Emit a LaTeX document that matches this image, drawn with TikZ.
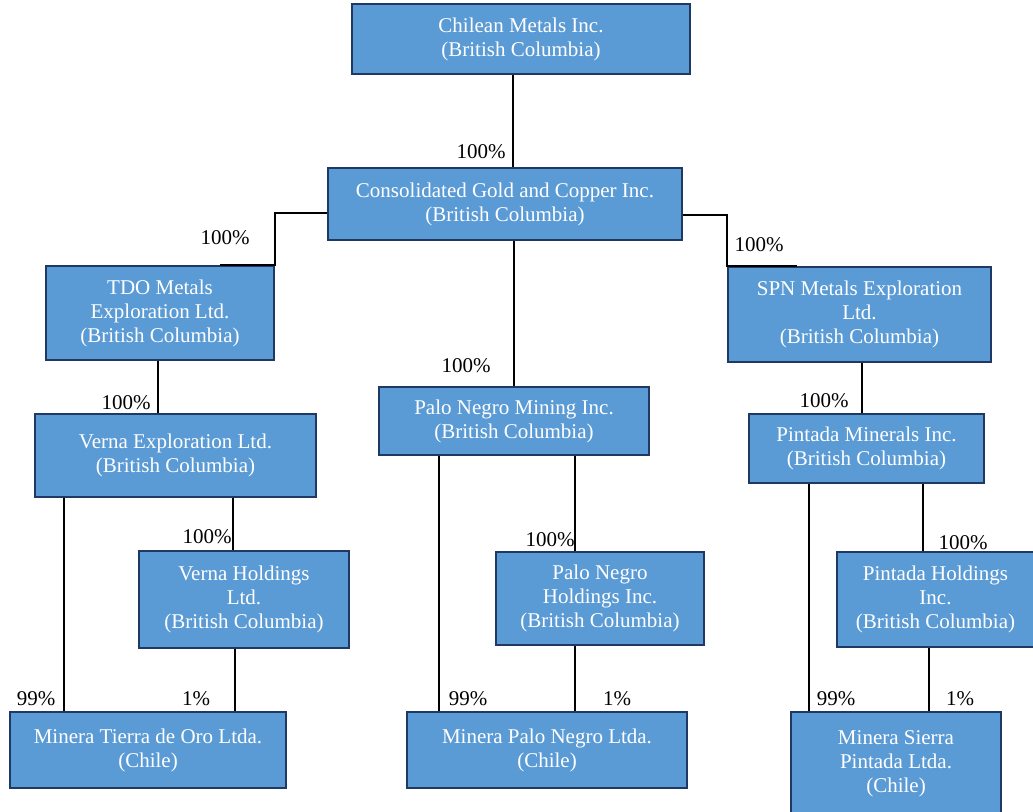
\documentclass[tikz,border=0pt]{standalone}
\usepackage{fontspec}
\setmainfont{Liberation Serif}
\definecolor{boxfill}{HTML}{5B9BD5}
\definecolor{boxline}{HTML}{203864}

\begin{document}
\begin{tikzpicture}[x=0.5pt,y=-0.5pt,
  entity/.style={draw=boxline,line width=1.1pt,fill=boxfill,text=white,align=center,inner sep=0pt,font=\fontsize{10.5}{12}\selectfont},
  pct/.style={inner sep=0pt,font=\fontsize{10.5}{12}\selectfont},
  link/.style={line width=0.8pt}]
\useasboundingbox (0,0) rectangle (1033,812);

% companies
\node[entity,minimum width=169pt,minimum height=35pt] (chilean) at (521,39) {Chilean Metals Inc.\\(British Columbia)};
\node[entity,minimum width=177pt,minimum height=36pt] (consol) at (505,204) {Consolidated Gold and Copper Inc.\\(British Columbia)};
\node[entity,minimum width=114pt,minimum height=47pt] (tdo) at (160,313) {TDO Metals\\Exploration Ltd.\\(British Columbia)};
\node[entity,minimum width=131.5pt,minimum height=47.5pt] (spn) at (859.5,314.5) {SPN Metals Exploration\\Ltd.\\(British Columbia)};
\node[entity,minimum width=140.5pt,minimum height=41.5pt] (vexp) at (175.5,455.5) {Verna Exploration Ltd.\\(British Columbia)};
\node[entity,minimum width=135pt,minimum height=34pt] (pnm) at (514,421) {Palo Negro Mining Inc.\\(British Columbia)};
\node[entity,minimum width=117.5pt,minimum height=34.5pt] (pmin) at (866.5,448.5) {Pintada Minerals Inc.\\(British Columbia)};
\node[entity,minimum width=105pt,minimum height=48.5pt] (vhold) at (244,599.5) {Verna Holdings\\Ltd.\\(British Columbia)};
\node[entity,minimum width=104pt,minimum height=46.5pt] (pnh) at (600,598.5) {Palo Negro\\Holdings Inc.\\(British Columbia)};
\node[entity,minimum width=98.5pt,minimum height=47.5pt] (phold) at (935.5,599.5) {Pintada Holdings\\Inc.\\(British Columbia)};
\node[entity,minimum width=138pt,minimum height=38pt] (mtierra) at (148,750) {Minera Tierra de Oro Ltda.\\(Chile)};
\node[entity,minimum width=140pt,minimum height=38pt] (mpn) at (547,750) {Minera Palo Negro Ltda.\\(Chile)};
\node[entity,minimum width=105pt,minimum height=51.5pt] (msierra) at (896,763.5) {Minera Sierra\\Pintada Ltda.\\(Chile)};

% ownership links
\draw[link] (chilean.south -| 513,0) -- (consol.north -| 513,0);
\draw[link] (consol.west |- 0,213) -| (tdo.north east) -- (tdo.north east -| 220,0);
\draw[link] (consol.east |- 0,215) -| (spn.north west) -- (spn.north west -| 797,0);
\draw[link] (consol.south -| pnm.north) -- (pnm.north);
\draw[link] (tdo.south -| 158,0) -- (vexp.north -| 158,0);
\draw[link] (spn.south -| 862,0) -- (pmin.north -| 862,0);
\draw[link] (vexp.south -| 233,0) -- (vhold.north -| 233,0);
\draw[link] (vexp.south -| 64,0) -- (mtierra.north -| 64,0);
\draw[link] (vhold.south -| 235,0) -- (mtierra.north -| 235,0);
\draw[link] (pnm.south -| 575,0) -- (pnh.north -| 575,0);
\draw[link] (pnm.south -| 439,0) -- (mpn.north -| 439,0);
\draw[link] (pnh.south -| 575,0) -- (mpn.north -| 575,0);
\draw[link] (pmin.south -| 923,0) -- (phold.north -| 923,0);
\draw[link] (pmin.south -| 809,0) -- (msierra.north -| 809,0);
\draw[link] (phold.south -| 929,0) -- (msierra.north -| 929,0);

% shares
\node[pct] (p1) at (481,152) {100\%};
\node[pct] (p2) at (225,238) {100\%};
\node[pct] (p3) at (759,245) {100\%};
\node[pct] (p4) at (466,366) {100\%};
\node[pct] (p5) at (126,403) {100\%};
\node[pct] (p6) at (824,401) {100\%};
\node[pct] (p7) at (207,537) {100\%};
\node[pct] (p8) at (36,699) {99\%};
\node[pct] (p9) at (196,699) {1\%};
\node[pct] (p10) at (550,540) {100\%};
\node[pct] (p11) at (468,699) {99\%};
\node[pct] (p12) at (617,699) {1\%};
\node[pct] (p13) at (963,543) {100\%};
\node[pct] (p14) at (836,699) {99\%};
\node[pct] (p15) at (960,699) {1\%};
\end{tikzpicture}
\end{document}
